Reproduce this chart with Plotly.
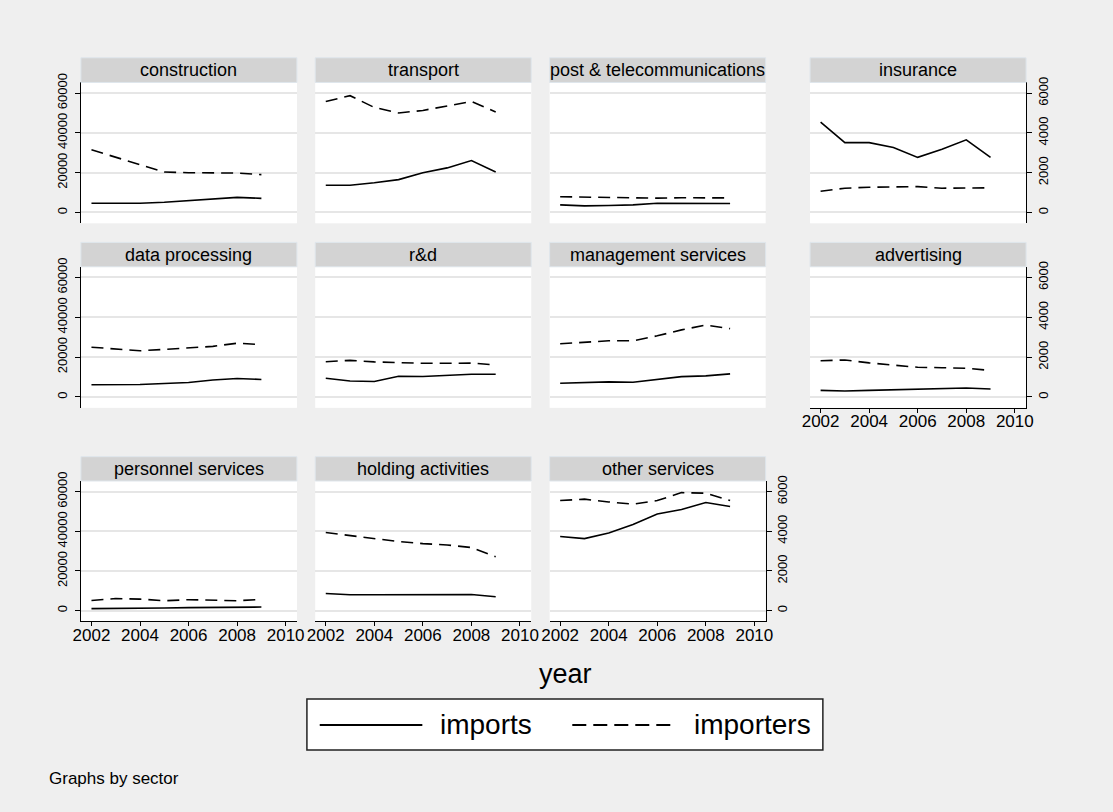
import plotly.graph_objects as go

years = [2002, 2003, 2004, 2005, 2006, 2007, 2008, 2009]
sectors = ["construction", "transport", "post & telecommunications", "insurance",
           "data processing", "r&d", "management services", "advertising",
           "personnel services", "holding activities", "other services"]
series_names = ["imports", "importers"]
left_ticks = [0, 20000, 40000, 60000]
left_ticklabels = ["0", "20000", "40000", "60000"]
right_ticks = [0, 2000, 4000, 6000]
right_ticklabels = ["0", "2000", "4000", "6000"]
x_ticks = [2002, 2004, 2006, 2008, 2010]

imports_construction = [4600, 4600, 4600, 5100, 5900, 6800, 7600, 7100]
importers_construction = [3150, 2770, 2390, 2030, 2000, 2000, 1980, 1900]
imports_transport = [13700, 13700, 14900, 16500, 20000, 22400, 26100, 20300]
importers_transport = [5580, 5870, 5280, 5000, 5130, 5350, 5580, 5050]
imports_post = [3800, 3300, 3500, 3800, 4600, 4600, 4600, 4500]
importers_post = [790, 770, 750, 740, 720, 740, 730, 730]
imports_insurance = [45400, 35100, 35100, 32700, 27700, 31800, 36500, 27700]
importers_insurance = [1070, 1220, 1270, 1300, 1300, 1220, 1240, 1240]
imports_data = [6100, 6100, 6300, 6800, 7300, 8500, 9300, 8800]
importers_data = [2500, 2400, 2320, 2390, 2450, 2540, 2700, 2630]
imports_rd = [9400, 8000, 7800, 10400, 10300, 10800, 11400, 11400]
importers_rd = [1770, 1840, 1760, 1720, 1690, 1690, 1700, 1610]
imports_management = [6900, 7300, 7600, 7400, 8900, 10200, 10600, 11600]
importers_management = [2670, 2760, 2820, 2820, 3070, 3370, 3610, 3430]
imports_advertising = [3300, 3000, 3300, 3600, 3800, 4000, 4500, 4000]
importers_advertising = [1820, 1860, 1710, 1590, 1490, 1470, 1440, 1330]
imports_personnel = [1000, 1000, 1200, 1300, 1500, 1700, 1800, 1800]
importers_personnel = [510, 610, 580, 500, 550, 530, 500, 560]
imports_holding = [8600, 8000, 8000, 8100, 8000, 8300, 8100, 7000]
importers_holding = [3940, 3790, 3650, 3480, 3380, 3310, 3180, 2720]
imports_other = [37400, 36300, 39100, 43400, 48700, 51000, 54500, 52500]
importers_other = [5550, 5620, 5480, 5370, 5550, 5950, 5920, 5550]

imports_list = [imports_construction, imports_transport, imports_post, imports_insurance,
                imports_data, imports_rd, imports_management, imports_advertising,
                imports_personnel, imports_holding, imports_other]
importers_list = [importers_construction, importers_transport, importers_post, importers_insurance,
                  importers_data, importers_rd, importers_management, importers_advertising,
                  importers_personnel, importers_holding, importers_other]

W, H = 1113, 812
FONT = "Liberation Sans, Arial, sans-serif"
col_x = [(73.9, 292.9), (311.4, 530.4), (549.0, 768.0), (813.0, 1032.0)]
row_plot = [(74.3, 216.7), (260.7, 403.3), (477.3, 619.3)]
row_strip = [(49.3, 74.3), (236.0, 260.7), (452.7, 477.3)]
DASH = "12px,7px"

def px(x):
    return x / W

def py(y):
    return 1 - y / H

fig = go.Figure()
layout = {}
shapes = []
annotations = []
x_axis_panels = {7, 8, 9, 10}
right_axis_panels = {3, 7, 10}

for i, name in enumerate(sectors):
    r, c = divmod(i, 4)
    k = i + 1
    xa = "x" if k == 1 else f"x{k}"
    ya_l = 2 * k - 1
    ya_r = 2 * k
    yl = "y" if ya_l == 1 else f"y{ya_l}"
    yr = f"y{ya_r}"
    fig.add_trace(go.Scatter(x=years, y=imports_list[i], mode="lines", name=series_names[0],
                             line=dict(color="black", width=1.6), xaxis=xa, yaxis=yl,
                             showlegend=False, hoverinfo="skip"))
    fig.add_trace(go.Scatter(x=years, y=importers_list[i], mode="lines", name=series_names[1],
                             line=dict(color="black", width=1.6, dash=DASH), xaxis=xa, yaxis=yr,
                             showlegend=False, hoverinfo="skip"))
    x0, x1 = col_x[c]
    y0, y1 = row_plot[r]
    show_x = i in x_axis_panels
    layout[f"xaxis{'' if k == 1 else k}"] = dict(
        domain=[px(x0), px(x1)], anchor=yl, range=[2001.565, 2010.465],
        showgrid=False, zeroline=False,
        showline=show_x, linecolor="black", linewidth=1,
        ticks="outside" if show_x else "", ticklen=4, tickcolor="black",
        tickvals=x_ticks, showticklabels=show_x, ticklabelstandoff=-6,
        tickfont=dict(family=FONT, size=17, color="black"),
    )
    show_l = c == 0
    layout[f"yaxis{'' if ya_l == 1 else ya_l}"] = dict(
        domain=[py(y1), py(y0)], anchor=xa, range=[-5450, 65350],
        showgrid=True, gridcolor="#e6e6e6", gridwidth=1.6, zeroline=False,
        tickvals=left_ticks, ticktext=left_ticklabels,
        showline=show_l, linecolor="black", linewidth=1,
        ticks="outside" if show_l else "", ticklen=5, tickcolor="black",
        showticklabels=show_l, tickangle=-90, ticklabelstandoff=3,
        tickfont=dict(family=FONT, size=13, color="black"),
    )
    show_r = i in right_axis_panels
    layout[f"yaxis{ya_r}"] = dict(
        domain=[py(y1), py(y0)], anchor=xa, overlaying=yl, side="right",
        range=[-545, 6535], showgrid=False, zeroline=False,
        tickvals=right_ticks, ticktext=right_ticklabels,
        showline=show_r, linecolor="black", linewidth=1,
        ticks="outside" if show_r else "", ticklen=5, tickcolor="black",
        showticklabels=show_r, tickangle=-90,
        tickfont=dict(family=FONT, size=13, color="black"),
    )
    s0, s1 = row_strip[r]
    shapes.append(dict(type="rect", xref="paper", yref="paper",
                       x0=px(x0), x1=px(x1), y0=py(s1), y1=py(s0),
                       fillcolor="#d3d3d3", line=dict(color="#dfe6ec", width=1), layer="above"))
    annotations.append(dict(text=name, xref="paper", yref="paper",
                            x=px((x0 + x1) / 2), y=py((s0 + s1) / 2),
                            xanchor="center", yanchor="middle", showarrow=False,
                            font=dict(family=FONT, size=18, color="black")))

annotations.append(dict(text="year", xref="paper", yref="paper", x=px(565), y=py(672),
                        xanchor="center", yanchor="middle", showarrow=False,
                        font=dict(family=FONT, size=27, color="black")))
lx0, lx1, ly0, ly1 = 303, 826, 697.7, 749.3
shapes.append(dict(type="rect", xref="paper", yref="paper", x0=px(lx0), x1=px(lx1),
                   y0=py(ly1), y1=py(ly0), fillcolor="white",
                   line=dict(color="#222222", width=1.5)))
ly = 724
shapes.append(dict(type="line", xref="paper", yref="paper", x0=px(316), x1=px(420),
                   y0=py(ly), y1=py(ly), line=dict(color="black", width=2)))
shapes.append(dict(type="line", xref="paper", yref="paper", x0=px(572), x1=px(677),
                   y0=py(ly), y1=py(ly), line=dict(color="black", width=2, dash="14px,7px")))
annotations.append(dict(text=series_names[0], xref="paper", yref="paper", x=px(436), y=py(ly),
                        xanchor="left", yanchor="middle", showarrow=False,
                        font=dict(family=FONT, size=28, color="black")))
annotations.append(dict(text=series_names[1], xref="paper", yref="paper", x=px(693), y=py(ly),
                        xanchor="left", yanchor="middle", showarrow=False,
                        font=dict(family=FONT, size=28, color="black")))
annotations.append(dict(text="Graphs by sector", xref="paper", yref="paper", x=px(40), y=py(778),
                        xanchor="left", yanchor="middle", showarrow=False,
                        font=dict(family=FONT, size=17, color="black")))

fig.update_layout(**layout)
fig.update_layout(width=W, height=H, margin=dict(l=0, r=0, t=0, b=0),
                  paper_bgcolor="#efefef", plot_bgcolor="white",
                  showlegend=False, shapes=shapes, annotations=annotations,
                  font=dict(family=FONT, color="black"), hovermode=False)
fig.write_html("out.html", config={"displayModeBar": False},
               post_script="document.body.style.margin='0';document.body.style.background='#efefef';")
